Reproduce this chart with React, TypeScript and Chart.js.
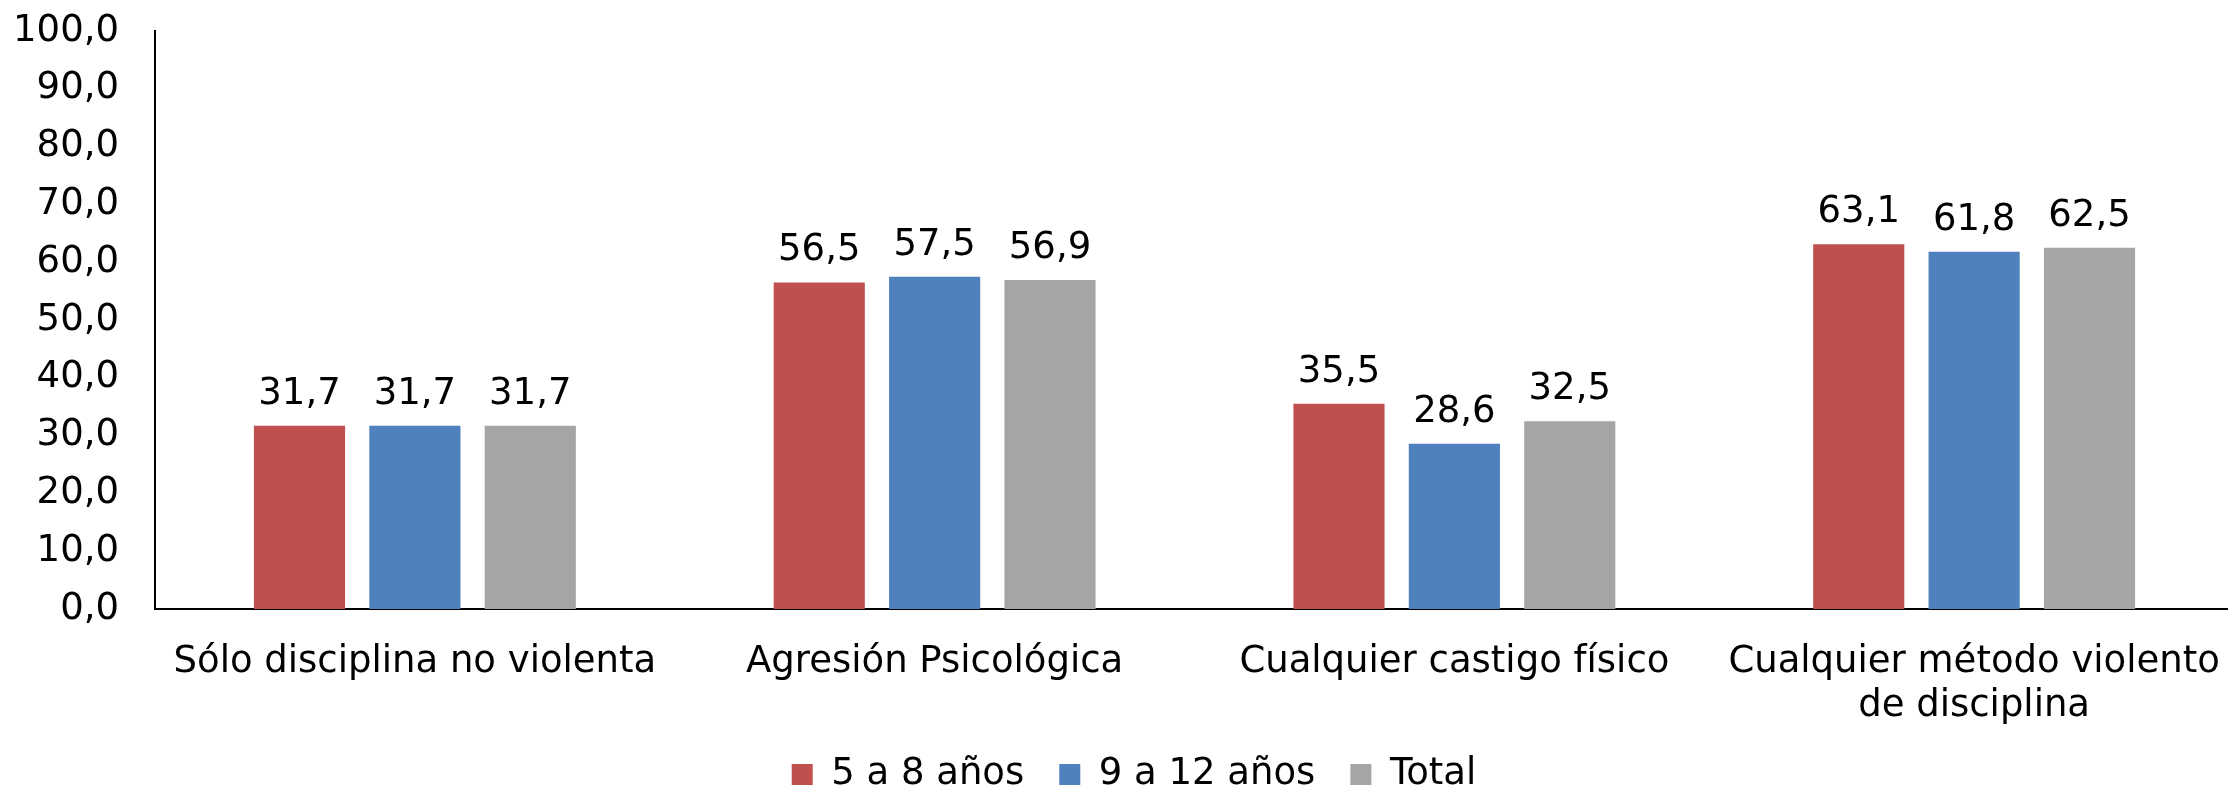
import React, { useEffect, useRef } from "react";
import { Chart, registerables } from "chart.js";

Chart.register(...registerables);

const categories: (string | string[])[] = [
  "Sólo disciplina no violenta",
  "Agresión Psicológica",
  "Cualquier castigo físico",
  ["Cualquier método violento", "de disciplina"],
];
const seriesNames = ["5 a 8 años", "9 a 12 años", "Total"];
const age5to8 = [31.7, 56.5, 35.5, 63.1];
const age9to12 = [31.7, 57.5, 28.6, 61.8];
const total = [31.7, 56.9, 32.5, 62.5];
const colors = ["#C0504D", "#4F81BD", "#A5A5A5"];
const yTicks = { min: 0, max: 100, step: 10 };

const FONT = "'DejaVu Sans'";
const FS = 37;

const fmt = (v: number) => v.toFixed(1).replace(".", ",");

const valueLabels = {
  id: "valueLabels",
  afterDatasetsDraw(chart: any) {
    const ctx = chart.ctx;
    ctx.save();
    ctx.font = `${FS}px ${FONT}`;
    ctx.fillStyle = "#000";
    ctx.textAlign = "center";
    ctx.textBaseline = "alphabetic";
    chart.data.datasets.forEach((ds: any, i: number) => {
      const meta = chart.getDatasetMeta(i);
      meta.data.forEach((el: any, j: number) => {
        ctx.fillText(fmt(ds.data[j]), el.x, el.y - 22);
      });
    });
    ctx.restore();
  },
};

const legendShift = {
  id: "legendShift",
  afterLayout(chart: any) {
    const l = chart.legend;
    if (l) {
      l.left += 17;
      l.right += 17;
      l.top -= 6;
      l.bottom -= 6;
    }
  },
};

export default function App() {
  const ref = useRef<HTMLCanvasElement>(null);
  useEffect(() => {
    if (!ref.current) return;
    Chart.defaults.font.family = FONT;
    Chart.defaults.font.size = FS;
    Chart.defaults.color = "#000";
    const data = [age5to8, age9to12, total];
    const chart = new Chart(ref.current, {
      type: "bar",
      data: {
        labels: categories,
        datasets: seriesNames.map((name, i) => ({
          label: name,
          data: data[i],
          backgroundColor: colors[i],
          borderWidth: 0,
          categoryPercentage: 0.666,
          barPercentage: 0.79,
        })),
      },
      options: {
        responsive: false,
        animation: false,
        devicePixelRatio: 1,
        layout: { padding: { left: 0, right: 0, top: 31, bottom: 0 } },
        plugins: {
          legend: {
            position: "bottom",
            labels: {
              boxWidth: 21,
              boxHeight: 21,
              padding: 35,
              font: { size: FS },
              color: "#000",
            },
          },
          tooltip: { enabled: false },
        },
        scales: {
          x: {
            grid: { display: false, drawTicks: false },
            border: { display: true, color: "#000", width: 2 },
            ticks: {
              padding: 31,
              maxRotation: 0,
              autoSkip: false,
              font: { size: FS, lineHeight: 1.2 },
              color: "#000",
            },
            afterFit: (scale: any) => {
              scale.height = 118;
              scale.paddingLeft = 0;
              scale.paddingRight = 0;
            },
          },
          y: {
            min: yTicks.min,
            max: yTicks.max,
            grid: { display: false, drawTicks: false },
            border: { display: true, color: "#000", width: 2 },
            ticks: {
              stepSize: yTicks.step,
              padding: 36,
              font: { size: FS },
              color: "#000",
              callback: (v: any) => fmt(Number(v)),
            },
            afterFit: (scale: any) => {
              scale.width = 155;
              scale.paddingTop = 0;
              scale.paddingBottom = 0;
            },
          },
        },
      },
      plugins: [valueLabels, legendShift],
    });
    return () => chart.destroy();
  }, []);
  return (
    <div
      style={{
        position: "fixed",
        left: 0,
        top: 0,
        width: 2228,
        height: 789,
        overflow: "hidden",
        background: "#fff",
      }}
    >
      <canvas ref={ref} width={2234} height={809} style={{ display: "block" }} />
    </div>
  );
}
